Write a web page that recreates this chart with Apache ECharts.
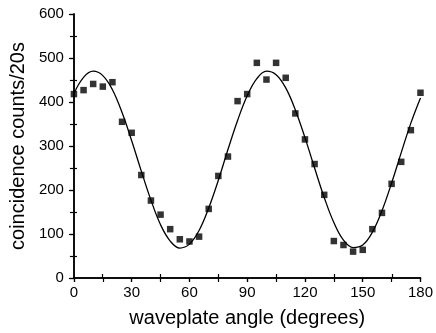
<!DOCTYPE html>
<html>
<head>
<meta charset="utf-8">
<script src="https://cdn.jsdelivr.net/npm/echarts@6/dist/echarts.min.js"></script>
<style>
  html, body { margin: 0; padding: 0; background: #fff; }
  #chart { width: 436px; height: 333px; }
</style>
</head>
<body>
<div id="chart"></div>
<script>
// measured points (waveplate angle in degrees, counts per 20 s)
const angles = [0, 5, 10, 15, 20, 25, 30, 35, 40, 45, 50, 55, 60, 65, 70, 75, 80, 85, 90,
    95, 100, 105, 110, 115, 120, 125, 130, 135, 140, 145, 150, 155, 160, 165, 170, 175, 180];
const counts = [418, 427, 441, 435, 445, 355, 330, 234, 176, 144, 111, 88, 83, 94, 157, 232, 276, 402, 418,
    489, 451, 489, 455, 374, 315, 259, 189, 84, 75, 60, 64, 111, 148, 214, 264, 336, 421];

// fitted curve
const fitAngles = [0, 5, 10, 15, 20, 25, 30, 35, 40, 45, 50, 55, 60, 65, 70, 75, 80, 85, 90,
    95, 100, 105, 110, 115, 120, 125, 130, 135, 140, 145, 150, 155, 160, 165, 170, 175, 180];
const fitCounts = [419, 456, 470, 460, 428, 376, 312, 243, 177, 121, 84, 68, 77, 108, 159, 222, 292, 358, 414,
    453, 470, 462, 432, 382, 319, 250, 183, 126, 86, 69, 75, 104, 153, 216, 285, 352, 409];

const xTicks = { min: 0, max: 180, interval: 30 };
const yTicks = { min: 0, max: 600, interval: 100 };
// minor ticks that point into the frame on the bottom and left sides
const xMinorTicks = [15, 45, 75, 105, 135, 165];
const yMinorTicks = [50, 150, 250, 350, 450, 550];

const font = 'Liberation Sans, Arial, sans-serif';
const axisLine = { show: true, lineStyle: { color: '#000', width: 1.5 } };
const tickStyle = { color: '#000', width: 1.2 };
const rect = { left: 73, right: 15, top: 14, bottom: 55 };

const chart = echarts.init(document.getElementById('chart'));

chart.setOption({
    animation: false,
    backgroundColor: '#fff',
    grid: [rect, rect],
    xAxis: [{
        type: 'value', gridIndex: 0, position: 'bottom',
        min: xTicks.min, max: xTicks.max, interval: xTicks.interval,
        name: 'waveplate angle (degrees)', nameLocation: 'middle', nameGap: 30,
        nameTextStyle: { fontFamily: font, fontSize: 20, color: '#000' },
        axisLine: axisLine,
        axisTick: { show: true, inside: false, length: 4, lineStyle: tickStyle },
        axisLabel: { fontFamily: font, fontSize: 15, color: '#000', margin: 7 },
        splitLine: { show: false }
    }, {
        type: 'value', gridIndex: 0, position: 'top',
        min: xTicks.min, max: xTicks.max, interval: xTicks.interval,
        axisLine: axisLine,
        axisTick: { show: true, inside: true, length: 4, lineStyle: tickStyle },
        minorTick: { show: true, splitNumber: 2, length: 4, lineStyle: tickStyle },
        axisLabel: { show: false },
        splitLine: { show: false }
    }, {
        type: 'value', gridIndex: 1, position: 'bottom',
        min: xTicks.min, max: xTicks.max,
        axisLine: { show: false },
        axisTick: { show: true, inside: true, length: 4, customValues: xMinorTicks, lineStyle: tickStyle },
        axisLabel: { show: false },
        splitLine: { show: false }
    }],
    yAxis: [{
        type: 'value', gridIndex: 0, position: 'left',
        min: yTicks.min, max: yTicks.max, interval: yTicks.interval,
        name: 'coincidence counts/20s', nameLocation: 'middle', nameGap: 44,
        nameTextStyle: { fontFamily: font, fontSize: 20, color: '#000' },
        axisLine: axisLine,
        axisTick: { show: true, inside: false, length: 5, lineStyle: tickStyle },
        axisLabel: { fontFamily: font, fontSize: 15, color: '#000', margin: 10 },
        splitLine: { show: false }
    }, {
        type: 'value', gridIndex: 0, position: 'right',
        min: yTicks.min, max: yTicks.max, interval: yTicks.interval,
        axisLine: axisLine,
        axisTick: { show: true, inside: true, length: 4, lineStyle: tickStyle },
        minorTick: { show: true, splitNumber: 2, length: 4, lineStyle: tickStyle },
        axisLabel: { show: false },
        splitLine: { show: false }
    }, {
        type: 'value', gridIndex: 1, position: 'left',
        min: yTicks.min, max: yTicks.max,
        axisLine: { show: false },
        axisTick: { show: true, inside: true, length: 4, customValues: yMinorTicks, lineStyle: tickStyle },
        axisLabel: { show: false },
        splitLine: { show: false }
    }],
    series: [{
        type: 'line',
        xAxisIndex: 0, yAxisIndex: 0,
        data: fitAngles.map((a, i) => [a, fitCounts[i]]),
        smooth: 0.4,
        showSymbol: false,
        lineStyle: { color: '#000', width: 1.3 },
        z: 2
    }, {
        type: 'scatter',
        xAxisIndex: 0, yAxisIndex: 0,
        data: angles.map((a, i) => [a, counts[i]]),
        symbol: 'rect',
        symbolSize: 6.5,
        itemStyle: { color: '#000' },
        z: 3
    }]
});
</script>
</body>
</html>
